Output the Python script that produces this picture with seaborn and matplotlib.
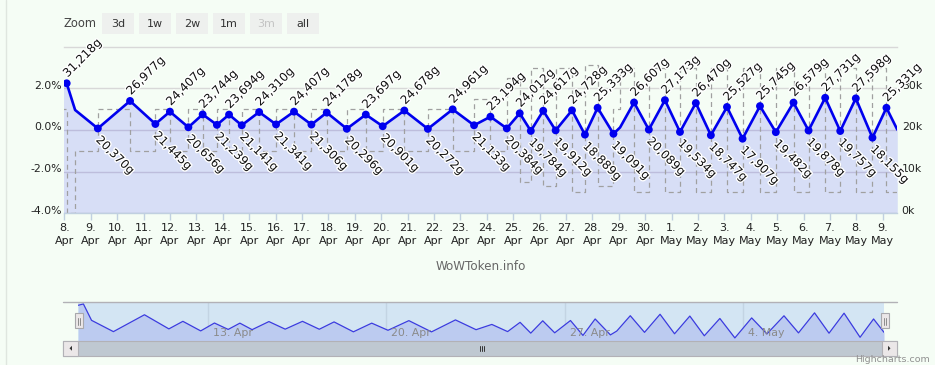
import numpy as np
import pandas as pd

import matplotlib
matplotlib.use("Agg")
import matplotlib.pyplot as plt
import matplotlib.patheffects as pe
from matplotlib.patches import Rectangle, Polygon
from matplotlib.lines import Line2D
from matplotlib.transforms import ScaledTranslation
import seaborn as sns


# Token price (days after 8 Apr 00:00, gold)

price_days = [
    -0.11, 0.09, 0.41, 1.27, 2.49, 3.45, 4.00, 4.70, 5.24, 5.78,
    6.24, 6.72, 7.38, 8.02, 8.70, 9.36, 9.94, 10.70, 11.42, 12.06,
    12.88, 13.77, 14.71, 15.52, 16.14, 16.76, 17.25, 17.67, 18.14, 18.61,
    19.23, 19.72, 20.20, 20.80, 21.05, 21.58, 22.14, 22.75, 23.32, 23.92,
    24.49, 25.10, 25.69, 26.35, 26.95, 27.62, 28.19, 28.82, 29.39, 29.98,
    30.61, 31.14, 31.55
]

price_gold = [
    30700, 31218, 24800, 20370, 26977, 21445, 24407, 20656, 23744, 21239,
    23694, 21141, 24310, 21341, 24407, 21306, 24178, 20296, 23697, 20901,
    24678, 20272, 24961, 21133, 23194, 20384, 24012, 19784, 24617, 19912,
    24728, 18889, 25333, 19091, 20600, 26607, 20089, 27173, 19534, 26470,
    18747, 25527, 17907, 25745, 19482, 26579, 19878, 27731, 19757, 27598,
    18155, 25331, 20100
]

# Hourly change (%) on each stretch between two price points

change_pct = [
    1, -4, -1, 1, -1, 1, -1, 1, -1, 1,
    -1, 1, -1, 1, -1, 1, -1, 1, -1, 1,
    -1, 1, -1, 1.5, -1, 2.5, -2.5, 3, -2.7, 3,
    -3, 3.1, -2.7, 1, 3, -3, 3, -3, 3, -3,
    3, -3, 3, -3, 3, -3, 3, -3, 3, -3,
    3, -3
]

# Axis and control labels

day_ticks = list(range(32))
day_labels = [
    f"{d.day}.\n{d:%b}" for d in pd.date_range("2016-04-08", periods=32)
]

pct_ticks = [-4, -2, 0, 2]
pct_labels = ["-4.0%", "-2.0%", "0.0%", "2.0%"]

gold_ticks = [0, 10, 20, 30]
gold_labels = ["0k", "10k", "20k", "30k"]

nav_ticks = [5, 12, 19, 26]
nav_labels = ["13. Apr", "20. Apr", "27. Apr", "4. May"]

zoom_buttons = ["3d", "1w", "2w", "1m", "3m", "all"]


# Figure setup

sns.set_theme(style="white")
plt.rcParams["font.family"] = ["DejaVu Sans"]

BG = "#f5fdf5"
W, H = 935, 365

fig = plt.figure(figsize=(W / 100, H / 100), dpi=100, facecolor=BG)


def box(x0, y0, x1, y1):
    # pixel box (top-left origin) -> figure fraction rect
    return [x0 / W, 1 - y1 / H, (x1 - x0) / W, (y1 - y0) / H]


def fx(x):
    return x / W


def fy(y):
    return 1 - y / H


price_k = np.array(price_gold) / 1000
vals = np.array(price_gold)

peaks = np.zeros(len(vals), bool)
troughs = np.zeros(len(vals), bool)
peaks[1:-1] = (vals[1:-1] > vals[:-2]) & (vals[1:-1] > vals[2:])
troughs[1:-1] = (vals[1:-1] < vals[:-2]) & (vals[1:-1] < vals[2:])

days = np.array(price_days)


# Main chart

ax = fig.add_axes(box(64.3, 46.7, 897, 213.3))
ax.set_facecolor("none")

ax_pct = ax.twinx()
ax_pct.set_ylim(-4, 4)

ax.fill_between(
    days, 0, price_k,
    color="#0000ff", alpha=0.12, lw=0, zorder=1
)

step_vals = change_pct + [change_pct[-1]]

ax.plot(
    days, step_vals,
    transform=ax_pct.transData,
    drawstyle="steps-post",
    color="#a0a0a0", lw=0.9, ls=(0, (4, 3)),
    zorder=2
)

sns.lineplot(
    x=days, y=price_k, ax=ax,
    color="#0000ee", lw=1.9,
    sort=False, estimator=None, zorder=3
)

sns.scatterplot(
    x=days[peaks | troughs], y=price_k[peaks | troughs], ax=ax,
    color="#0000ee", s=32, edgecolor="none", zorder=4
)

halo = [pe.withStroke(linewidth=2, foreground="white")]

for d, v in zip(days[peaks], vals[peaks]):
    ax.annotate(
        f"{v:,}g", (d, v / 1000),
        xytext=(2.2, 2.5), textcoords="offset points",
        rotation=45, rotation_mode="anchor",
        ha="left", va="bottom",
        fontsize=8.5, color="#111111",
        path_effects=halo, zorder=5, annotation_clip=False
    )

for d, v in zip(days[troughs], vals[troughs]):
    ax.annotate(
        f"{v:,}g", (d, v / 1000),
        xytext=(3.3, -3.5), textcoords="offset points",
        rotation=-45, rotation_mode="anchor",
        ha="left", va="top",
        fontsize=8.5, color="#111111",
        path_effects=halo, zorder=5, annotation_clip=False
    )

ax.set_xlim(0, 31.54)
ax.set_ylim(0, 40)

# Gridlines and spines

ax.set_yticks(gold_ticks)
ax.set_yticklabels(gold_labels)
ax.yaxis.tick_right()
ax.yaxis.grid(True, color="#d8d8d8", lw=1)
ax.set_axisbelow(True)

for side in ["left", "right"]:
    ax.spines[side].set_visible(False)
    ax_pct.spines[side].set_visible(False)

ax.spines["top"].set_color("#d8d8d8")
ax.spines["top"].set_linewidth(1)
ax.spines["bottom"].set_color("#c0d0e0")
ax.spines["bottom"].set_linewidth(1)
ax_pct.spines["top"].set_visible(False)
ax_pct.spines["bottom"].set_visible(False)

ax.tick_params(
    axis="y", right=True, left=False, length=0, pad=3.4,
    labelsize=7.8, labelcolor="#222222",
    labelright=True, labelleft=False
)

ax_pct.yaxis.tick_left()
ax_pct.set_yticks(pct_ticks)
ax_pct.set_yticklabels(pct_labels)
ax_pct.tick_params(
    axis="y", left=True, right=False, length=0, pad=1.5,
    labelsize=7.8, labelcolor="#222222",
    labelleft=True, labelright=False
)

ax.set_xticks(day_ticks)
ax.set_xticklabels(day_labels)
ax.tick_params(
    axis="x", bottom=True, length=5, width=1, color="#c0d0e0",
    pad=2, labelsize=8, labelcolor="#222222", direction="out"
)

for lab in ax.get_xticklabels():
    lab.set_linespacing(1.35)

lift = ScaledTranslation(0, 3.5 / 100, fig.dpi_scale_trans)

for lab in ax.get_yticklabels() + ax_pct.get_yticklabels():
    lab.set_transform(lab.get_transform() + lift)

fig.text(
    fx(481), fy(266.7), "WoWToken.info",
    ha="center", va="center", fontsize=8.6, color="#666666"
)


# Range selector

fig.text(
    fx(64), fy(23.8), "Zoom",
    ha="left", va="center", fontsize=8.3, color="#444444"
)

for i, name in enumerate(zoom_buttons):
    left = 102.3 + i * 37
    fig.patches.append(
        Rectangle(
            (fx(left), fy(34.3)), 31.7 / W, 21 / H,
            transform=fig.transFigure, fc="#eef0ee", ec="none"
        )
    )
    fig.text(
        fx(left + 15.8), fy(23.8), name,
        ha="center", va="center", fontsize=8,
        color="#c4c4c4" if name == "3m" else "#333333"
    )


# Navigator

nav = fig.add_axes(box(78.3, 301.7, 884, 341))
nav.set_facecolor("#d3e5f3")

for d in nav_ticks:
    nav.axvline(d, color="#c3d4e3", lw=1, zorder=0.5)

nav.fill_between(days, 0, price_k, color="#bccbf0", lw=0, zorder=1)

sns.lineplot(
    x=days, y=price_k, ax=nav,
    color="#3b3bdf", lw=0.9,
    sort=False, estimator=None, zorder=2
)

for d, name in zip(nav_ticks, nav_labels):
    nav.annotate(
        name, (d, 0.2), xycoords=("data", "axes fraction"),
        xytext=(3.6, 0), textcoords="offset points",
        ha="left", va="center", fontsize=7.9, color="#8a8a8a"
    )

nav.set_xlim(-0.11, 31.55)
nav.set_ylim(16.7, 32.1)
nav.set_xticks([])
nav.set_yticks([])

for s in nav.spines.values():
    s.set_visible(False)

fig.add_artist(
    Line2D([fx(63.3), fx(897)], [fy(301.7)] * 2, color="#b2b1b6", lw=1)
)

# Handles

for left in [75, 880.5]:
    fig.patches.append(
        Rectangle(
            (fx(left), fy(328.3)), 8 / W, 15 / H,
            transform=fig.transFigure, fc="#ebe7e8", ec="#a8a8ac", lw=0.8
        )
    )
    for dx in [3, 5]:
        fig.add_artist(
            Line2D([fx(left + dx)] * 2, [fy(317.5), fy(324.5)],
                   color="#8c8c8c", lw=0.7)
        )

# Scrollbar

fig.patches.append(
    Rectangle(
        (fx(63.3), fy(355.7)), (897 - 63.3) / W, 14.7 / H,
        transform=fig.transFigure, fc="#bfc8d1", ec="#b2b1b6", lw=0.8
    )
)

for left in [63.3, 882]:
    fig.patches.append(
        Rectangle(
            (fx(left), fy(355.7)), 15 / W, 14.7 / H,
            transform=fig.transFigure, fc="#ebe7e8", ec="#b2b1b6", lw=0.8
        )
    )

fig.patches.append(
    Polygon(
        [(fx(72), fy(345.8)), (fx(72), fy(350.8)), (fx(69.5), fy(348.3))],
        closed=True, transform=fig.transFigure, fc="#333333", ec="none"
    )
)
fig.patches.append(
    Polygon(
        [(fx(888), fy(345.8)), (fx(888), fy(350.8)), (fx(890.5), fy(348.3))],
        closed=True, transform=fig.transFigure, fc="#333333", ec="none"
    )
)

for gx in [479.5, 481.5, 483.5]:
    fig.add_artist(
        Line2D([fx(gx)] * 2, [fy(345.5), fy(351)], color="#333333", lw=0.7)
    )

fig.add_artist(
    Line2D([fx(5.5)] * 2, [0, 1], color="#dfe6df", lw=1)
)

fig.text(
    fx(930), fy(360), "Highcharts.com",
    ha="right", va="center", fontsize=6.8, color="#909090"
)


fig.savefig("out.png", dpi=100, facecolor=BG)

plt.close()
